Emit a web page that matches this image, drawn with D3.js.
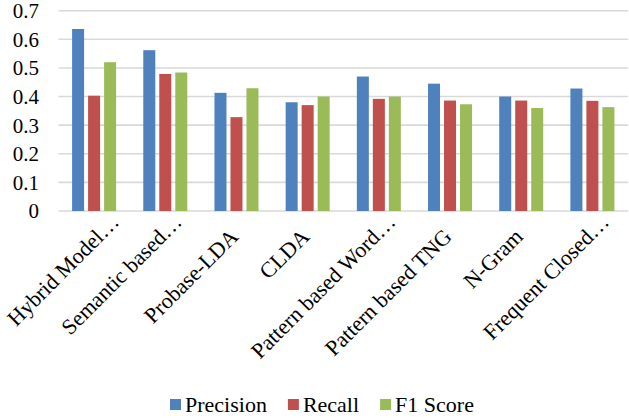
<!DOCTYPE html>
<html><head><meta charset="utf-8">
<script src="https://cdn.jsdelivr.net/npm/d3@7"></script>
<style>body{margin:0;background:#fff}svg{display:block}text{font-family:"Liberation Serif","Times New Roman",serif;fill:#000}</style>
</head><body><svg id="c" width="629" height="418"></svg>
<script>
const categories = ["Hybrid Model…","Semantic based…","Probase-LDA","CLDA","Pattern based Word…","Pattern based TNG","N-Gram","Frequent Closed…"];
const seriesNames = ["Precision","Recall","F1 Score"];
const precision = [0.636,0.562,0.413,0.380,0.470,0.445,0.400,0.428];
const recall    = [0.403,0.479,0.328,0.370,0.392,0.386,0.386,0.385];
const f1score   = [0.520,0.484,0.429,0.400,0.400,0.373,0.360,0.363];
const yTicks = [0,0.1,0.2,0.3,0.4,0.5,0.6,0.7];
const colors = ["#4f81bd","#c0504d","#9bbb59"];
const seriesValues = [precision, recall, f1score];

const svg = d3.select("#c");
const pLeft = 58.5, pRight = 628, pTop = 10.7, pBottom = 211;
const y = d3.scaleLinear().domain([0,0.7]).range([pBottom, pTop]);
const x0 = d3.scaleBand().domain(categories).range([pLeft, pRight]).paddingInner(0).paddingOuter(0);
const groupW = 44;
const x1 = d3.scaleBand().domain(seriesNames).range([0, groupW]).paddingInner(0.25).paddingOuter(0);

// gridlines
svg.append("g").selectAll("line").data(yTicks).join("line")
  .attr("x1", pLeft).attr("x2", pRight)
  .attr("y1", d => y(d)).attr("y2", d => y(d))
  .attr("stroke", "#d9d9d9").attr("stroke-width", 1.6);

// y labels
svg.append("g").selectAll("text").data(yTicks).join("text")
  .attr("x", 39).attr("y", d => y(d)).attr("dy", "0.35em")
  .attr("text-anchor", "end").attr("font-size", 21)
  .text(d => d === 0 ? "0" : d3.format(".1f")(d));

// bars
const rows = categories.map((c, i) => ({c, vals: seriesValues.map((s, j) => ({s: seriesNames[j], v: s[i], col: colors[j]}))}));
const g = svg.append("g").selectAll("g").data(rows).join("g")
  .attr("transform", d => `translate(${x0(d.c) + x0.bandwidth()/2 - groupW/2},0)`);
g.selectAll("rect").data(d => d.vals).join("rect")
  .attr("x", d => x1(d.s)).attr("width", x1.bandwidth())
  .attr("y", d => y(d.v)).attr("height", d => y(0) - y(d.v))
  .attr("fill", d => d.col);

// x labels
const xl = svg.append("g").selectAll("text").data(categories).join("text")
  .attr("text-anchor", "end").attr("font-size", 22)
  .attr("dx", d => d.endsWith("…") ? 21 : 0)
  .text(d => d);
xl.each(function(d) {
  let tx = x0(d) + x0.bandwidth()/2 + 3;
  const el = d3.select(this);
  el.attr("transform", `translate(${tx},238) rotate(-45)`);
  const b = this.getBoundingClientRect();
  if (b.left < 2) { tx += 2 - b.left; el.attr("transform", `translate(${tx},238) rotate(-45)`); }
});

// legend
const lg = svg.append("g");
let lx = 170;
seriesNames.forEach((n, i) => {
  lg.append("rect").attr("x", lx).attr("y", 399).attr("width", 11).attr("height", 11).attr("fill", colors[i]);
  const t = lg.append("text").attr("x", lx + 15).attr("y", 411.5).attr("font-size", 22).text(n);
  lx += 15 + t.node().getComputedTextLength() + 21;
});
</script></body></html>
